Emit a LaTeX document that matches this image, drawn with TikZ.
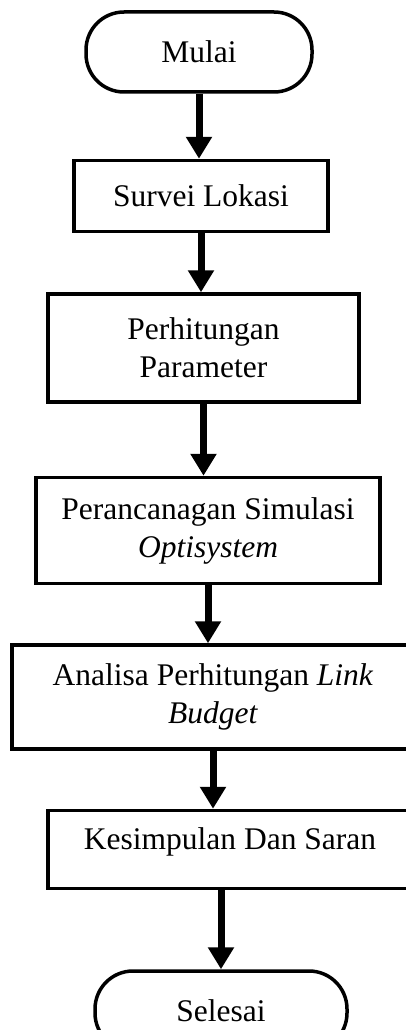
\documentclass[tikz,border=0pt]{standalone}
\usepackage{fontspec}
\setmainfont{Liberation Serif}
\usepackage{tikz}
\usetikzlibrary{arrows.meta,positioning}

\begin{document}
\begin{tikzpicture}[node distance=60pt]
    \tikzstyle{terminal}=[draw, line width=3.5pt, rounded corners=38pt, minimum width=252pt, minimum height=80pt, inner sep=0pt]
    \tikzstyle{proses}=[draw, line width=3.5pt, align=center, inner sep=0pt]
    \tikzstyle{panah}=[line width=7pt, -{Triangle[length=22pt, width=25pt]}]
    \useasboundingbox (0,0) rectangle (406pt,-1030pt);
    \clip (0,0) rectangle (406pt,-1030pt);
    \fontsize{31.5}{38}\selectfont
    \node[terminal, minimum width=226pt] (mulai) at (199pt,-52pt) {Mulai};
    \node[proses, below=65pt of mulai, xshift=2pt, minimum width=254pt, minimum height=71pt] (survei) {Survei Lokasi};
    \node[proses, below=59pt of survei, xshift=2.5pt, minimum width=311pt, minimum height=108pt] (param) {Perhitungan\\Parameter};
    \node[proses, below=72pt of param, xshift=4.5pt, minimum width=344pt, minimum height=106pt] (sim) {Perancanagan Simulasi\\\textit{Optisystem}};
    \node[proses, below=58pt of sim, xshift=5pt, minimum width=402pt, minimum height=104pt] (analisa) {Analisa Perhitungan \textit{Link}\\\textit{Budget}};
    \node[proses, below=58pt of analisa, xshift=17pt, minimum width=364pt, minimum height=78pt, text depth=22pt] (simpul) {Kesimpulan Dan Saran};
    \node[terminal, below=79pt of simpul, xshift=-9pt] (selesai) {Selesai};
    \draw[panah] (mulai.south) -- (mulai.south |- survei.north);
    \draw[panah] (survei.south) -- (survei.south |- param.north);
    \draw[panah] (param.south) -- (param.south |- sim.north);
    \draw[panah] (sim.south) -- (sim.south |- analisa.north);
    \draw[panah] (analisa.south) -- (analisa.south |- simpul.north);
    \draw[panah] (selesai.north |- simpul.south) -- (selesai.north);
  \end{tikzpicture}
\end{document}
